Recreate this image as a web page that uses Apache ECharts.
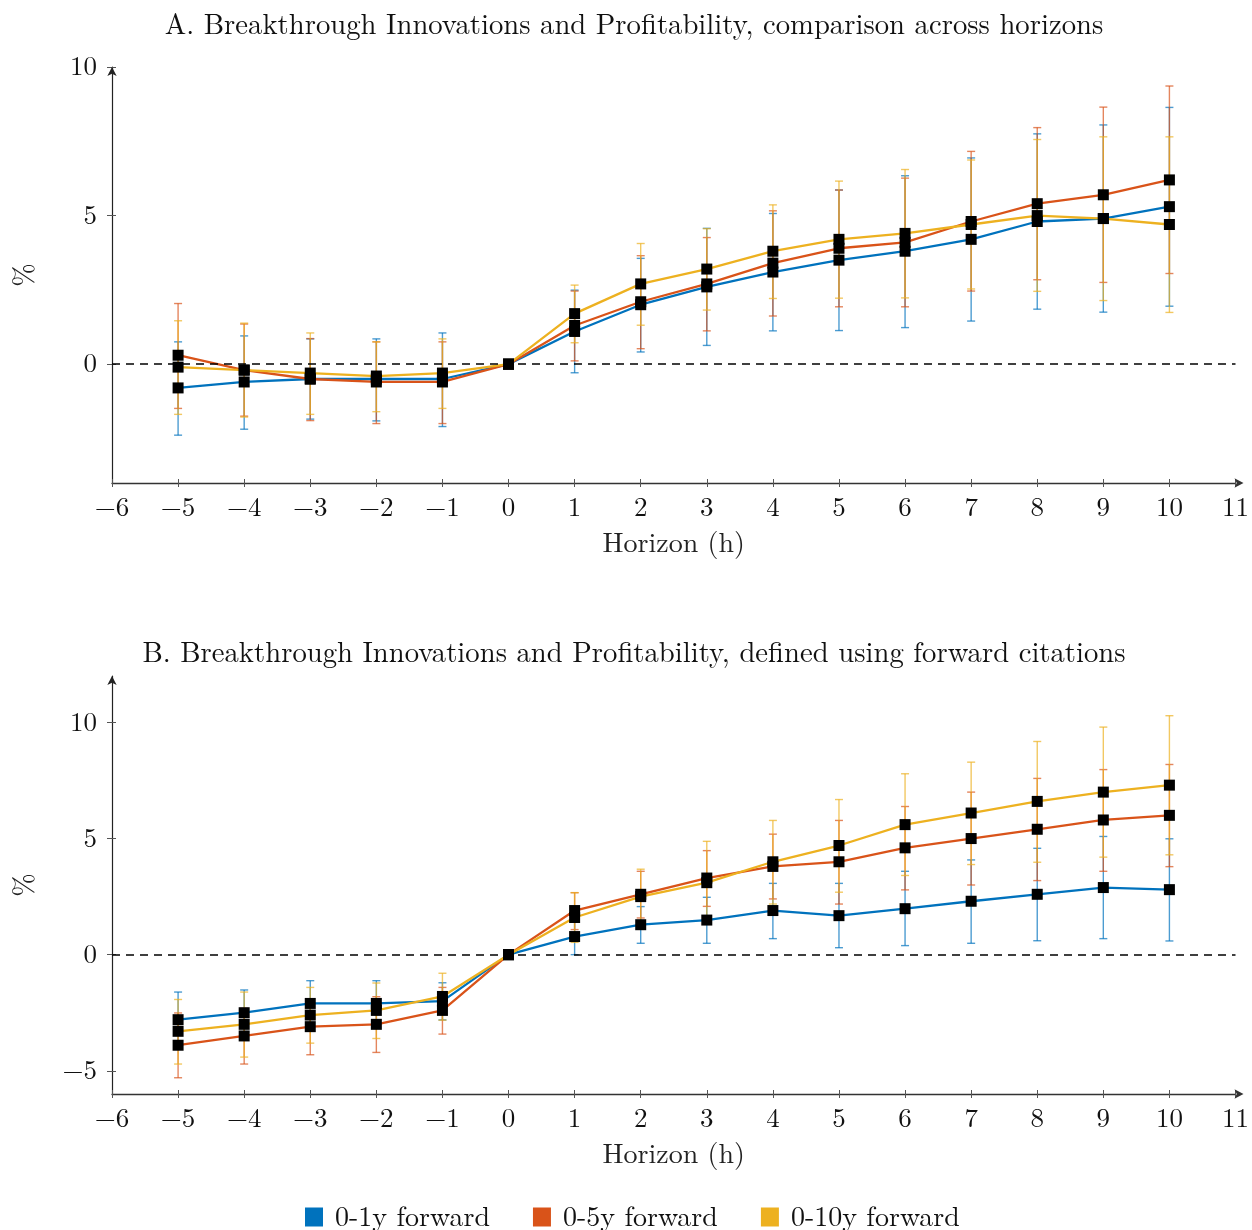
<!DOCTYPE html>
<html>
<head>
<meta charset="utf-8">
<script src="https://cdn.jsdelivr.net/npm/echarts@6/dist/echarts.min.js"></script>
<style>html,body{margin:0;padding:0;background:#fff}#c{width:1252px;height:1230px}</style>
</head>
<body>
<div id="c"></div>
<script>
const horizons = [-5,-4,-3,-2,-1,0,1,2,3,4,5,6,7,8,9,10];
const seriesNames = ['0-1y forward','0-5y forward','0-10y forward'];
const titleA = 'A. Breakthrough Innovations and Profitability, comparison across horizons';
const titleB = 'B. Breakthrough Innovations and Profitability, defined using forward citations';
const xName = 'Horizon (h)';
const yName = '%';
const xTicks = [-6,-5,-4,-3,-2,-1,0,1,2,3,4,5,6,7,8,9,10,11];
const yTicksA = [0,5,10];
const yTicksB = [-5,0,5,10];

// Panel A
const a1   = [-0.8,-0.6,-0.5,-0.5,-0.5,0,1.1,2.0,2.6,3.1,3.5,3.8,4.2,4.8,4.9,5.3];
const a1Lo = [-2.39,-2.19,-1.85,-1.91,-2.1,0,-0.29,0.41,0.63,1.12,1.13,1.23,1.45,1.85,1.75,1.95];
const a1Hi = [0.75,0.95,0.85,0.85,1.05,0,2.49,3.56,4.57,5.07,5.86,6.34,6.94,7.75,8.05,8.64];
const a5   = [0.3,-0.2,-0.5,-0.6,-0.6,0,1.3,2.1,2.7,3.4,3.9,4.1,4.8,5.4,5.7,6.2];
const a5Lo = [-1.49,-1.75,-1.9,-2.0,-2.0,0,0.11,0.52,1.12,1.62,1.93,1.93,2.46,2.84,2.75,3.05];
const a5Hi = [2.04,1.35,0.86,0.75,0.75,0,2.46,3.65,4.26,5.16,5.86,6.26,7.16,7.96,8.65,9.36];
const a10   = [-0.1,-0.2,-0.3,-0.4,-0.3,0,1.7,2.7,3.2,3.8,4.2,4.4,4.7,5.0,4.9,4.7];
const a10Lo = [-1.69,-1.78,-1.69,-1.6,-1.49,0,0.72,1.31,1.82,2.21,2.22,2.23,2.53,2.45,2.14,1.74];
const a10Hi = [1.46,1.38,1.05,0.75,0.85,0,2.66,4.06,4.56,5.36,6.16,6.55,6.87,7.56,7.65,7.65];

// Panel B
const b1   = [-2.8,-2.5,-2.1,-2.1,-2.0,0,0.78,1.29,1.49,1.9,1.68,1.98,2.3,2.6,2.89,2.8];
const b1Lo = [-3.99,-3.5,-3.1,-3.1,-2.81,0,0.0,0.49,0.49,0.69,0.30,0.39,0.49,0.60,0.69,0.59];
const b1Hi = [-1.61,-1.52,-1.12,-1.12,-1.21,0,1.56,2.07,2.47,3.07,3.07,3.59,4.08,4.58,5.09,4.99];
const b5   = [-3.9,-3.5,-3.1,-3.0,-2.4,0,1.9,2.6,3.3,3.8,4.0,4.6,5.0,5.4,5.8,6.0];
const b5Lo = [-5.3,-4.71,-4.31,-4.21,-3.42,0,1.08,1.58,2.08,2.40,2.18,2.79,3.0,3.19,3.59,3.79];
const b5Hi = [-2.51,-2.31,-1.93,-1.81,-1.41,0,2.67,3.59,4.48,5.19,5.78,6.38,7.0,7.59,7.97,8.19];
const b10   = [-3.3,-3.0,-2.6,-2.4,-1.8,0,1.6,2.5,3.1,4.0,4.7,5.6,6.1,6.6,7.0,7.3];
const b10Lo = [-4.71,-4.41,-3.81,-3.61,-2.82,0,0.53,1.32,1.32,2.18,2.69,3.41,3.88,3.98,4.20,4.30];
const b10Hi = [-1.93,-1.61,-1.41,-1.22,-0.80,0,2.67,3.68,4.88,5.78,6.68,7.79,8.29,9.18,9.80,10.29];

const colors = ['#0072BD','#D95319','#EDB120'];
const FONT = "'Latin Modern Roman','CMU Serif','Liberation Serif',serif";
const fmt = v => String(v).replace('-', '\u2212');

const chart = echarts.init(document.getElementById('c'), null, {renderer:'canvas'});

function xAxes(gi) {
  return [
    {type:'value', gridIndex:gi, min:-6, max:11, interval:1, position:'bottom',
     axisLine:{show:true, onZero:false, lineStyle:{color:'#333', width:1.3}, symbol:['none','arrow'], symbolSize:[7,9], symbolOffset:[0,8]},
     axisTick:{show:true, inside:true, length:4, lineStyle:{color:'#555'}},
     axisLabel:{fontFamily:FONT, fontSize:27, color:'#111', margin:11, formatter:fmt, customValues:xTicks},
     splitLine:{show:false},
     name:xName, nameLocation:'middle', nameGap:46, nameTextStyle:{fontFamily:FONT, fontSize:28, color:'#222'}},
    {type:'value', gridIndex:gi, min:-6, max:11, interval:1, position:'bottom',
     axisLine:{show:false, onZero:false}, axisTick:{show:true, inside:false, length:4, lineStyle:{color:'#555'}},
     axisLabel:{show:false}, splitLine:{show:false}}
  ];
}
function yAxes(gi, min, max, ticks) {
  return [
    {type:'value', gridIndex:gi, min:min, max:max, position:'left',
     axisLine:{show:true, onZero:false, lineStyle:{color:'#222', width:1.2}, symbol:['none','arrow'], symbolSize:[7,9]},
     axisTick:{show:true, inside:true, length:4, customValues:ticks, lineStyle:{color:'#555'}},
     axisLabel:{fontFamily:FONT, fontSize:27, color:'#111', margin:15, formatter:fmt, customValues:ticks},
     splitLine:{show:false},
     name:yName, nameLocation:'middle', nameGap:74, nameRotate:90, nameTextStyle:{fontFamily:FONT, fontSize:28, color:'#222'}},
    {type:'value', gridIndex:gi, min:min, max:max, position:'left',
     axisLine:{show:false, onZero:false}, axisTick:{show:true, inside:false, length:5, customValues:ticks, lineStyle:{color:'#555'}},
     axisLabel:{show:false}, splitLine:{show:false}}
  ];
}

function errSeries(gi, ci, lo, hi) {
  return {
    type:'custom', xAxisIndex:gi*2, yAxisIndex:gi*2, z:2, silent:true,
    name:'err'+gi+ci,
    data: horizons.map((h,i)=>[h, lo[i], hi[i]]),
    encode:{x:0, y:[1,2]},
    renderItem:function(params, api){
      const x = api.value(0);
      const p1 = api.coord([x, api.value(1)]);
      const p2 = api.coord([x, api.value(2)]);
      const hw = 4;
      const st = {stroke:colors[ci], lineWidth:1.4, opacity:0.7};
      return {type:'group', children:[
        {type:'line', shape:{x1:p1[0], y1:p1[1], x2:p2[0], y2:p2[1]}, style:st},
        {type:'line', shape:{x1:p1[0]-hw, y1:p1[1], x2:p1[0]+hw, y2:p1[1]}, style:st},
        {type:'line', shape:{x1:p2[0]-hw, y1:p2[1], x2:p2[0]+hw, y2:p2[1]}, style:st}
      ]};
    }
  };
}
function lineSeries(gi, ci, vals, withZero) {
  const s = {
    type:'line', name:seriesNames[ci], xAxisIndex:gi*2, yAxisIndex:gi*2, z:3,
    data: horizons.map((h,i)=>[h, vals[i]]),
    showSymbol:false, symbol:'none', silent:true,
    lineStyle:{color:colors[ci], width:2.3}, itemStyle:{color:colors[ci]},
    emphasis:{disabled:true}
  };
  if (withZero) {
    s.markLine = {silent:true, symbol:['none','none'], label:{show:false},
      lineStyle:{color:'#000', type:[8,6], width:1.5}, data:[{yAxis:0}]};
  }
  return s;
}
function markerSeries(gi, ci, vals) {
  return {
    type:'scatter', name:'mk'+gi+ci, xAxisIndex:gi*2, yAxisIndex:gi*2, z:5, silent:true,
    data: horizons.map((h,i)=>[h, vals[i]]),
    symbol:'rect', symbolSize:11, itemStyle:{color:'#000', opacity:1}
  };
}

const panels = [[a1,a1Lo,a1Hi,a5,a5Lo,a5Hi,a10,a10Lo,a10Hi],[b1,b1Lo,b1Hi,b5,b5Lo,b5Hi,b10,b10Lo,b10Hi]];
const series = [];
panels.forEach((p, gi) => {
  for (let ci=0; ci<3; ci++) series.push(errSeries(gi, ci, p[ci*3+1], p[ci*3+2]));
  for (let ci=0; ci<3; ci++) series.push(lineSeries(gi, ci, p[ci*3], ci===0));
  for (let ci=0; ci<3; ci++) series.push(markerSeries(gi, ci, p[ci*3]));
});

chart.setOption({
  animation:false,
  backgroundColor:'#fff',
  grid:[
    {left:112, right:15, top:67, height:416},
    {left:112, right:15, top:676, height:418}
  ],
  xAxis:[...xAxes(0), ...xAxes(1)],
  yAxis:[...yAxes(0,-4,10,yTicksA), ...yAxes(1,-6,12,yTicksB)],
  legend:{
    data: seriesNames.map((n,i)=>({name:n, icon:'rect', itemStyle:{color:colors[i]}})),
    left:300, top:1198, itemWidth:18, itemHeight:19, itemGap:43,
    textStyle:{fontFamily:FONT, fontSize:28, color:'#111', padding:[0,0,0,7]}, selectedMode:false
  },
  graphic:[
    {type:'text', x:634, y:25, style:{text:titleA, font:"28.7px "+FONT, fill:'#111', align:'center', verticalAlign:'middle'}},
    {type:'text', x:634, y:653, style:{text:titleB, font:"28.7px "+FONT, fill:'#111', align:'center', verticalAlign:'middle'}}
  ],
  series: series
});
</script>
</body>
</html>
